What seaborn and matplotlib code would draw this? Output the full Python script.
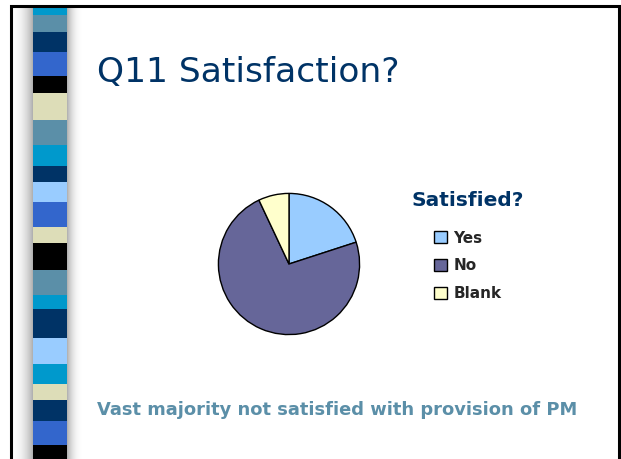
import numpy as np
import matplotlib
matplotlib.use("Agg")
import matplotlib.pyplot as plt
import seaborn as sns
from matplotlib.patches import Rectangle

# ---- data ----
categories = ["Yes", "No", "Blank"]
values = [20, 73, 7]
slice_colors = ["#99CCFF", "#666699", "#FFFFCC"]
title_text = "Q11 Satisfaction?"
legend_title = "Satisfied?"
caption_text = "Vast majority not satisfied with provision of PM"

# decorative stripe (top -> bottom) colours and boundaries in pixels
stripe_colors = ["#0099CC", "#5B8FA8", "#003366", "#3366CC", "#000000", "#DDDDB8",
                 "#5B8FA8", "#0099CC", "#003366", "#99CCFF", "#3366CC", "#DDDDB8",
                 "#000000", "#5B8FA8", "#0099CC", "#003366", "#99CCFF", "#0099CC",
                 "#DDDDB8", "#003366", "#3366CC", "#000000"]
stripe_edges = [5, 15, 32, 52, 76, 93, 120, 145, 166, 182, 202, 227, 243, 270,
                295, 309, 338, 364, 384, 400, 421, 445, 459]

sns.set_theme(style="white")
plt.rcParams["font.family"] = ["DejaVu Sans"]

W, H = 621, 459
fig = plt.figure(figsize=(W / 100, H / 100), dpi=100)
fig.patch.set_facecolor("white")

# background axes in pixel coordinates (y down)
bg = fig.add_axes([0, 0, 1, 1])
bg.axis("off")

# gray shading beside the stripe
gl = np.linspace(0, 1, 64)[None, :] ** 1.5
bg.imshow(gl, extent=(12, 34, H, 6), cmap="Greys", vmin=0, vmax=2.2, aspect="auto", zorder=1)
gr = (np.linspace(1, 0, 64)[None, :]) ** 1.5
bg.imshow(gr, extent=(64, 82, H, 6), cmap="Greys", vmin=0, vmax=1.8, aspect="auto", zorder=1)
bg.set_xlim(0, W)
bg.set_ylim(H, 0)

for i, c in enumerate(stripe_colors):
    y0, y1 = stripe_edges[i], stripe_edges[i + 1]
    bg.add_patch(Rectangle((33, y0), 34, y1 - y0, facecolor=c, edgecolor="none", zorder=2))

# slide border (top, left, right)
bg.plot([10.5, 10.5, 619, 619], [H, 5.5, 5.5, H], color="black", lw=2.2, zorder=3,
        solid_joinstyle="miter")

# title & caption
fig.text(97 / W, 1 - 73 / H, title_text, fontsize=24.8, color="#003366", va="center", ha="left")
fig.text(97 / W, 1 - 410 / H, caption_text, fontsize=12.9, color="#5B8FA8",
         fontweight="bold", va="center", ha="left")

# pie
cx, cy, r = 289, 264, 72
ax = fig.add_axes([(cx - r) / W, (H - cy - r) / H, 2 * r / W, 2 * r / H])
wedges, _ = ax.pie(values, colors=slice_colors, startangle=90, counterclock=False,
                   wedgeprops=dict(edgecolor="black", linewidth=1))
ax.set_xlim(-1.02, 1.02)
ax.set_ylim(-1.02, 1.02)
ax.set_aspect("equal")

leg = fig.legend(wedges, categories, title=legend_title, frameon=False,
                 loc="upper left", bbox_to_anchor=(398 / W, 1 - 177 / H),
                 prop=dict(weight="bold", size=11), handlelength=0.85, handleheight=0.85,
                 handletextpad=0.4, labelspacing=0.84)
leg.get_title().set_fontsize(14.5)
leg.get_title().set_fontweight("bold")
leg.get_title().set_color("#003366")
leg._legend_box.align = "center"
leg._legend_box.sep = 15

fig.savefig("out.png", dpi=100, facecolor="white")
